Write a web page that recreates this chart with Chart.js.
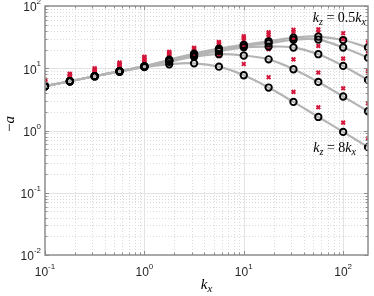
<!DOCTYPE html>
<html>
<head>
<meta charset="utf-8">
<script src="https://cdn.jsdelivr.net/npm/chart.js@4.4.0/dist/chart.umd.min.js"></script>
<style>
html, body { margin: 0; padding: 0; background: #fff; }
</style>
</head>
<body>
<canvas id="myChart" width="374" height="296"></canvas>
<script>
// wavenumbers, quarter decades
var kx = [0.1, 0.1778, 0.3162, 0.5623, 1, 1.778, 3.162, 5.623, 10, 17.78, 31.62, 56.23, 100, 177.8];
var ratios = ['0.5', '1', '2', '4', '8'];

// model (lines + black circles)
var model05 = [5.14, 6.18, 7.45, 8.95, 10.8, 13.7, 17.2, 20.7, 23.8, 27.1, 30.9, 32.3, 28.4, 21.5];
var model1 = [5.14, 6.18, 7.45, 8.95, 10.8, 13.4, 16.8, 19.8, 23.0, 25.2, 28.7, 28.9, 21.5, 14.8];
var model2 = [5.14, 6.18, 7.45, 8.95, 10.6, 13.2, 16.2, 18.8, 21.7, 22.3, 21.5, 16.8, 10.9, 6.49];
var model4 = [5.14, 6.18, 7.45, 8.95, 10.6, 12.7, 15.3, 16.8, 16.0, 13.9, 9.64, 6.03, 3.52, 2.04];
var model8 = [5.14, 6.18, 7.45, 8.79, 10.4, 11.6, 12.0, 10.6, 7.72, 4.90, 2.88, 1.65, 0.95, 0.54];

// red crosses
var meas05 = [6.54, 8.17, 10.0, 12.3, 15.3, 18.3, 21.3, 26.4, 32.7, 37.8, 41.5, 42.3, 36.5, 26.1];
var meas1 = [6.42, 8.01, 9.64, 11.8, 14.8, 17.7, 20.6, 25.6, 30.9, 35.2, 38.5, 37.8, 29.2, 18.8];
var meas2 = [6.30, 7.72, 9.29, 11.4, 13.9, 17.1, 19.5, 24.3, 28.4, 31.5, 29.2, 22.8, 14.3, 8.95];
var meas4 = [6.18, 7.45, 8.95, 11.0, 13.4, 16.5, 18.1, 22.3, 22.5, 20.2, 13.9, 8.54, 4.77, 2.74];
var meas8 = [6.07, 7.31, 8.47, 10.4, 12.5, 15.6, 15.6, 15.8, 11.7, 7.17, 4.17, 2.36, 1.34, 0.745];

var yTicks = [-2, -1, 0, 1, 2];
var xTicks = [-1, 0, 1, 2];

var models = [model05, model1, model2, model4, model8];
var meas = [meas05, meas1, meas2, meas4, meas8];

function pts(arr) {
    return arr.map(function (v, i) { return { x: kx[i], y: v } });
}

var datasets = [];
models.forEach(function (m, i) {
    datasets.push({
        label: 'line ' + ratios[i], data: pts(m), order: 3, showLine: true,
        borderColor: '#b4b4b4', borderWidth: 2.2, pointRadius: 0,
        tension: 0.4, fill: false
    });
});
meas.forEach(function (m, i) {
    datasets.push({
        label: 'meas ' + ratios[i], data: pts(m), order: 2, showLine: false,
        pointStyle: 'crossRot', pointRadius: 2.6, borderWidth: 2,
        borderColor: '#d4153a', backgroundColor: '#d4153a'
    });
});
models.forEach(function (m, i) {
    datasets.push({
        label: 'model ' + ratios[i], data: pts(m), order: 1, showLine: false,
        pointStyle: 'circle', pointRadius: 3.2, borderWidth: 1.9,
        borderColor: '#000', backgroundColor: 'rgba(0,0,0,0)'
    });
});

function mathText(c, parts, x, base, align, size) {
    var w = 0;
    parts.forEach(function (p) {
        c.font = (p[1] == 'n' ? '' : 'italic ') + (p[1] == 's' ? size * 0.72 : size) + 'px "Liberation Serif"';
        p.w = c.measureText(p[0]).width;
        w += p.w;
    });
    var cx = align == 'right' ? x - w : (align == 'center' ? x - w / 2 : x);
    c.textAlign = 'left';
    c.textBaseline = 'alphabetic';
    parts.forEach(function (p) {
        c.font = (p[1] == 'n' ? '' : 'italic ') + (p[1] == 's' ? size * 0.72 : size) + 'px "Liberation Serif"';
        c.fillText(p[0], cx, p[1] == 's' ? base + 3 : base);
        cx += p.w;
    });
}

function powLabel(c, exp, x, y, align) {
    var e = exp < 0 ? '-' + (-exp) : '' + exp;
    c.font = '12px "Liberation Sans"';
    var w1 = c.measureText('10').width;
    c.font = '8px "Liberation Sans"';
    var w2 = c.measureText(e).width;
    var sx = align == 'right' ? x - w1 - w2 : x - (w1 + w2) / 2;
    c.textAlign = 'left';
    c.textBaseline = 'middle';
    c.font = '12px "Liberation Sans"';
    c.fillText('10', sx, y);
    c.font = '8px "Liberation Sans"';
    c.fillText(e, sx + w1, y - 6);
}

var deco = {
    id: 'deco',
    beforeDatasetsDraw: function (chart) {
        var c = chart.ctx, a = chart.chartArea, xs = chart.scales.x, ys = chart.scales.y;
        c.save();
        c.lineWidth = 1;
        for (var d = -2; d < 3; d++) {
            for (var m = 1; m < 10; m++) {
                var v = m * Math.pow(10, d);
                c.strokeStyle = m == 1 ? '#e3e3e3' : '#dadada';
                c.setLineDash(m == 1 ? [] : [1, 2]);
                if (v > 0.1 && v < xs.max) {
                    var px = Math.round(xs.getPixelForValue(v)) + 0.5;
                    c.beginPath(); c.moveTo(px, a.top); c.lineTo(px, a.bottom); c.stroke();
                }
                if (v > 0.01 && v < 100) {
                    var py = Math.round(ys.getPixelForValue(v)) + 0.5;
                    c.beginPath(); c.moveTo(a.left, py); c.lineTo(a.right, py); c.stroke();
                }
            }
        }
        c.restore();
    },
    afterDraw: function (chart) {
        var c = chart.ctx, a = chart.chartArea, xs = chart.scales.x, ys = chart.scales.y;
        c.save();
        c.strokeStyle = '#8c8c8c';
        c.lineWidth = 1;
        c.setLineDash([]);
        for (var d = -2; d < 3; d++) {
            for (var m = 1; m < 10; m++) {
                var v = m * Math.pow(10, d);
                var len = m == 1 ? 4 : 2.5;
                if (v >= 0.1 && v <= xs.max) {
                    var px = Math.round(xs.getPixelForValue(v)) + 0.5;
                    c.beginPath();
                    c.moveTo(px, a.bottom); c.lineTo(px, a.bottom - len);
                    c.moveTo(px, a.top); c.lineTo(px, a.top + len);
                    c.stroke();
                }
                if (v >= 0.01 && v <= 100) {
                    var py = Math.round(ys.getPixelForValue(v)) + 0.5;
                    c.beginPath();
                    c.moveTo(a.left, py); c.lineTo(a.left + len, py);
                    c.moveTo(a.right, py); c.lineTo(a.right - len, py);
                    c.stroke();
                }
            }
        }
        c.lineWidth = 1.5;
        c.strokeRect(a.left, a.top, a.right - a.left, a.bottom - a.top);

        c.fillStyle = '#262626';
        yTicks.forEach(function (e) {
            powLabel(c, e, a.left - 4, ys.getPixelForValue(Math.pow(10, e)) + 2, 'right');
        });
        xTicks.forEach(function (e) {
            powLabel(c, e, xs.getPixelForValue(Math.pow(10, e)), a.bottom + 18, 'center');
        });

        c.fillStyle = '#000';
        mathText(c, [['k', 'i'], ['x', 's']], (a.left + a.right) / 2, a.bottom + 34, 'center', 15);
        c.save();
        c.translate(14, 124);
        c.rotate(-Math.PI / 2);
        mathText(c, [['\u2212', 'n'], ['a', 'i']], 0, 0, 'center', 15);
        c.restore();

        mathText(c, [['k', 'i'], ['z', 's'], [' = 0.5', 'n'], ['k', 'i'], ['x', 's']], a.right - 2, a.top + 16, 'right', 14);
        mathText(c, [['k', 'i'], ['z', 's'], [' = 8', 'n'], ['k', 'i'], ['x', 's']], a.right - 12, 152, 'right', 14);
        c.restore();
    }
};

var ctx = document.getElementById('myChart').getContext('2d');
var chart = new Chart(ctx, {
    type: 'scatter',
    data: { datasets: datasets },
    options: {
        responsive: false,
        animation: false,
        devicePixelRatio: 1,
        layout: { padding: { top: 6, right: 3, left: 0, bottom: 0 } },
        plugins: { legend: { display: false }, tooltip: { enabled: false } },
        scales: {
            x: {
                type: 'logarithmic', min: 0.1, max: 177.8,
                grid: { display: false }, border: { display: false },
                ticks: { display: false },
                afterFit: function (s) { s.height = 41 }
            },
            y: {
                type: 'logarithmic', min: 0.01, max: 100,
                grid: { display: false }, border: { display: false },
                ticks: { display: false },
                afterFit: function (s) { s.width = 45 }
            }
        }
    },
    plugins: [deco]
});
</script>
</body>
</html>
